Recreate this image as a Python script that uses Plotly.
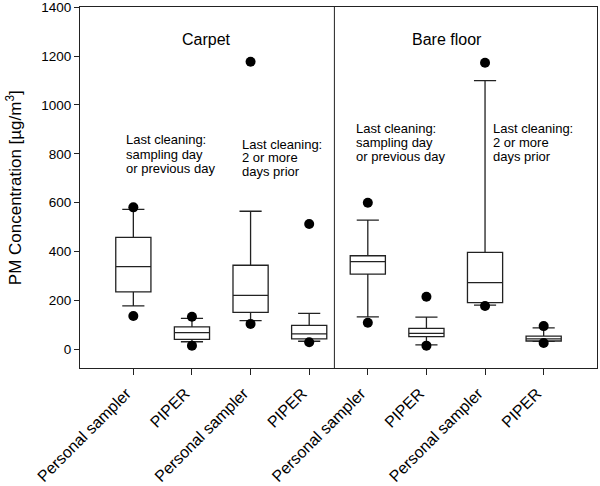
import plotly.graph_objects as go

# Category positions and labels
positions = [1, 2, 3, 4, 5, 6, 7, 8]
tick_labels = ["Personal sampler", "PIPER", "Personal sampler", "PIPER",
               "Personal sampler", "PIPER", "Personal sampler", "PIPER"]

# Box statistics (µg/m3)
q1 = [235, 41, 151, 43, 308, 52, 191, 34]
median = [338, 68, 221, 63, 359, 65, 273, 43]
q3 = [458, 92, 344, 98, 383, 86, 397, 54]
lower_whisker = [178, 31, 117, 33, 133, 18, 181, 33]
upper_whisker = [573, 127, 565, 147, 529, 132, 1100, 88]

# Outlying points (dots)
upper_dots = [581, 133, 1177, 513, 600, 215, 1173, 95]
lower_dots = [136, 15, 104, 29, 109, 15, 177, 26]

y_ticks = [0, 200, 400, 600, 800, 1000, 1200, 1400]

FONT = "Arial, Liberation Sans, sans-serif"
LINE = "#222222"

fig = go.Figure()
fig.add_trace(go.Box(
    x=positions, q1=q1, median=median, q3=q3,
    lowerfence=lower_whisker, upperfence=upper_whisker,
    width=0.6, whiskerwidth=0.63, fillcolor="white",
    line=dict(color=LINE, width=1.3), boxpoints=False,
    showlegend=False, hoverinfo="skip"))
fig.add_trace(go.Scatter(
    x=positions + positions, y=upper_dots + lower_dots, mode="markers",
    marker=dict(color="black", size=10), showlegend=False, hoverinfo="skip",
    cliponaxis=False))

fig.add_shape(type="line", xref="x", yref="paper", x0=4.43, x1=4.43, y0=0, y1=1,
              line=dict(color=LINE, width=1))

def xd(px):
    return 4.5 + (px - 338.6) / 58.64

def yd(py):
    return (349.3 - py) / 0.24429

ann = []
ann.append(dict(text="Carpet", x=xd(206.7), y=yd(39.3), size=16, anchor="center"))
ann.append(dict(text="Bare floor", x=xd(447.3), y=yd(39.3), size=16, anchor="center"))
blocks = [
    (125, [140, 154.2, 168.4], ["Last cleaning:", "sampling day", "or previous day"]),
    (240.7, [144.3, 158, 171.7], ["Last cleaning:", "2 or more", "days prior"]),
    (355, [128.3, 142.5, 156.7], ["Last cleaning:", "sampling day", "or previous day"]),
    (491.7, [128.3, 142.5, 156.7], ["Last cleaning:", "2 or more", "days prior"]),
]
for px, pys, lines in blocks:
    for py, t in zip(pys, lines):
        ann.append(dict(text=t, x=xd(px), y=yd(py), size=13, anchor="left"))

for a in ann:
    fig.add_annotation(text=a["text"], x=a["x"], y=a["y"], xref="x", yref="y",
                       showarrow=False, xanchor=a["anchor"], yanchor="middle",
                       font=dict(family=FONT, size=a["size"], color="black"),
                       borderpad=0)

fig.add_annotation(text="PM Concentration [µg/m<sup>3</sup>]", xref="paper", yref="paper",
                   x=(13.7 - 80) / 517, y=0.5, xanchor="center", yanchor="middle",
                   textangle=-90, showarrow=False,
                   font=dict(family=FONT, size=17, color="black"))

fig.update_layout(
    width=600, height=486,
    margin=dict(l=80, r=3, t=7, b=118, autoexpand=False),
    plot_bgcolor="white", paper_bgcolor="white",
    font=dict(family=FONT, color="black"),
    showlegend=False,
)
fig.update_xaxes(
    range=[0.09, 8.91], tickmode="array", tickvals=positions, ticktext=tick_labels,
    tickangle=-45, tickfont=dict(family=FONT, size=16, color="black"),
    ticklabelshift=-7, ticklabelstandoff=3,
    ticks="outside", ticklen=6, tickcolor=LINE, showgrid=False, zeroline=False,
    showline=True, linecolor=LINE, linewidth=1, mirror=True, automargin=False)
fig.update_yaxes(
    range=[-76.5, 1401], tickmode="array", tickvals=y_ticks,
    ticktext=[str(v) for v in y_ticks], ticklabeloverflow="allow",
    tickfont=dict(family=FONT, size=13.5, color="black"),
    ticks="outside", ticklen=5, tickcolor=LINE, showgrid=False, zeroline=False,
    showline=True, linecolor=LINE, linewidth=1, mirror=True, automargin=False)

fig.write_html("out.html", config={"displayModeBar": False},
               post_script="document.body.style.margin='0';document.body.style.padding='0';")
